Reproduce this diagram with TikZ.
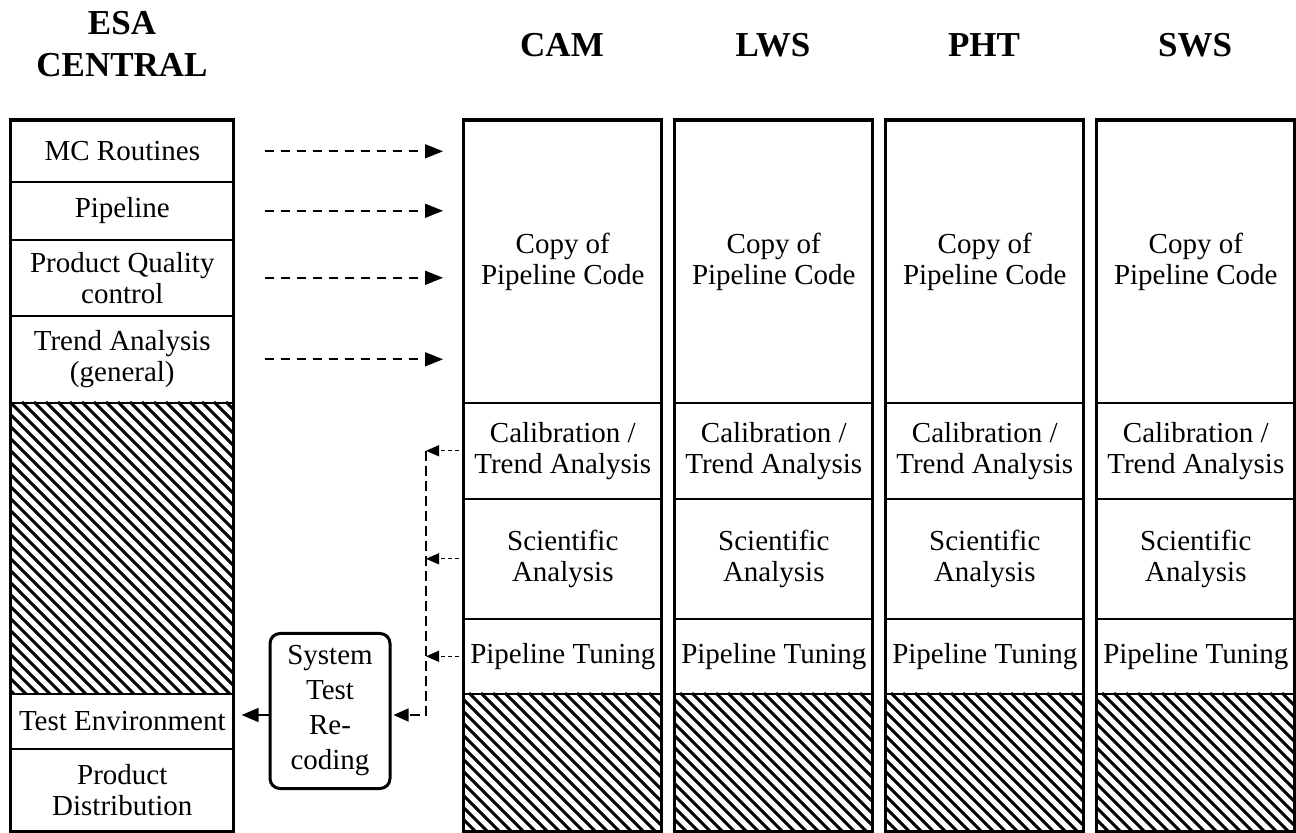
\documentclass[tikz,border=0pt]{standalone}
\usepackage{fontspec}
\setmainfont{Liberation Serif}
\usetikzlibrary{arrows.meta,positioning}

\begin{document}
\begin{tikzpicture}[x=0.5pt,y=-0.5pt,
    cell/.style={draw,line width=0.8pt,inner sep=0pt,anchor=north west,align=center,
                 font=\fontsize{14.5}{15.5}\selectfont},
    head/.style={align=center,font=\fontsize{17.5}{21}\selectfont\bfseries},
    frame/.style={draw,line width=1.5pt},
    hatch/.style={line width=1.5pt},
    copyarr/.style={line width=0.8pt,dash pattern=on 4.5pt off 3.5pt,
                    -{Triangle[length=9pt,width=7pt]},shorten <=15pt,shorten >=10pt},
    feedarr/.style={line width=0.7pt,dash pattern=on 1.8pt off 1.8pt,
                    -{Triangle[length=6.5pt,width=5.5pt]},shorten <=2pt},
    busline/.style={line width=0.7pt,dash pattern=on 5pt off 2.5pt,
                    -{Triangle[length=7.5pt,width=6.5pt]},shorten >=1pt},
    solidarr/.style={line width=0.8pt,-{Triangle[length=8.5pt,width=7pt]},shorten >=3.5pt}]
    \useasboundingbox (0,0) rectangle (1296,833);

    % ESA central column
    \node[head] (esa) at (122,44) {ESA\\CENTRAL};
    \node[cell,minimum width=111.5pt,minimum height=30.5pt] (mc)      at (10,120) {MC Routines};
    \node[cell,minimum width=111.5pt,minimum height=29pt]   (pipe)    at (10,181) {Pipeline};
    \node[cell,minimum width=111.5pt,minimum height=38pt]   (pqc)     at (10,239) {Product Quality\\control};
    \node[cell,minimum width=111.5pt,minimum height=43.5pt] (trend)   at (10,315) {Trend Analysis\\(general)};
    \node[cell,minimum width=111.5pt,minimum height=27.5pt] (testenv) at (10,693) {Test Environment};
    \node[cell,minimum width=111.5pt,minimum height=41.5pt] (dist)    at (10,748) {Product\\Distribution};
    \begin{scope}
        \clip (10,402) rectangle (233,693);
        \foreach \s in {-300,-288,...,240}
            \draw[hatch] (10+\s,402) -- ++(300,300);
    \end{scope}
    \draw[frame] (10,120) rectangle (233,831);

    % instrument columns
    \foreach \col/\x/\lab in {cam/463/CAM,lws/674/LWS,pht/885/PHT,sws/1096/SWS} {
        \node[head] (\col) at (\x+99,45) {\lab};
        \node[cell,minimum width=99pt,minimum height=141pt]  (\col-copy) at (\x,120) {Copy of\\Pipeline Code};
        \node[cell,minimum width=99pt,minimum height=48pt]   (\col-cal)  at (\x,402) {Calibration /\\Trend Analysis};
        \node[cell,minimum width=99pt,minimum height=60pt]   (\col-sci)  at (\x,498) {Scientific\\Analysis};
        \node[cell,minimum width=99pt,minimum height=37.5pt] (\col-tune) at (\x,618) {Pipeline Tuning};
        \begin{scope}
            \clip (\x,693) rectangle (\x+198,831);
            \foreach \s in {-150,-138,...,210}
                \draw[hatch] (\x+\s,693) -- ++(150,150);
        \end{scope}
        \draw[frame] (\x,120) rectangle (\x+198,831);
    }

    % system test box
    \node[draw,line width=1.5pt,rounded corners=5pt,inner sep=0pt,minimum width=60pt,minimum height=77.5pt,
          align=center,font=\fontsize{14.5}{17.5}\selectfont] (sys) at (330,711) {System\\Test\\Re-\\coding};
    \coordinate (bus) at (426,715);

    % connectors
    \foreach \r in {mc,pipe,pqc,trend}
        \draw[copyarr] (\r.east) -- (\r.east -| cam-copy.west);
    \foreach \r in {cal,sci,tune}
        \draw[feedarr] (cam-\r.west) -- (cam-\r.west -| bus);
    \draw[busline] (cam-cal.west -| bus) -- (bus) -- (sys.east |- bus);
    \draw[solidarr] (sys.west |- bus) -- (testenv.east |- bus);
\end{tikzpicture}
\end{document}
